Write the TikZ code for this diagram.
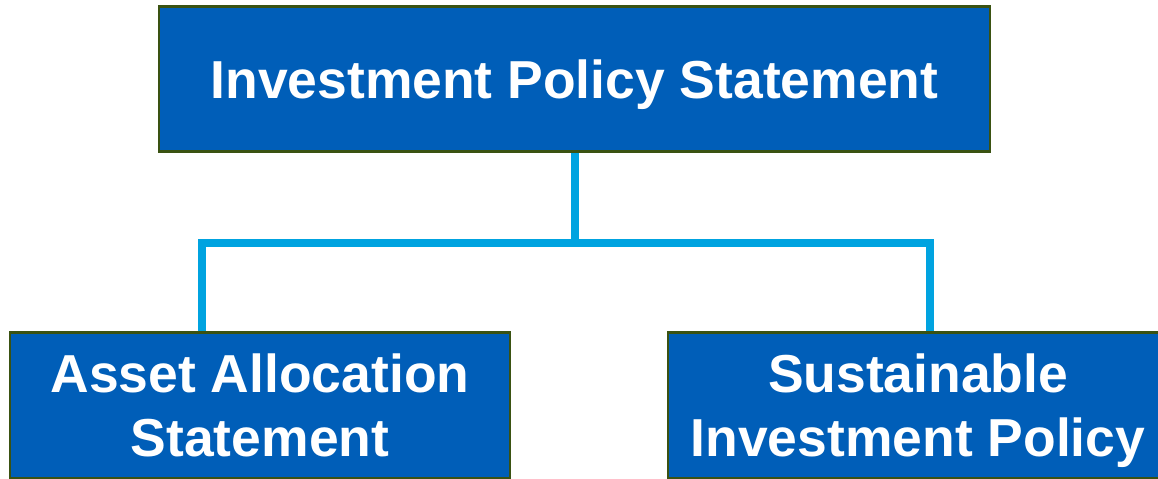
\documentclass[tikz,border=0pt]{standalone}
\usepackage{fontspec}
\setmainfont{Liberation Sans}

\definecolor{boxblue}{RGB}{0,94,184}
\definecolor{boxedge}{RGB}{58,82,18}
\definecolor{linkblue}{RGB}{0,163,224}

\tikzset{
  box/.style={draw=boxedge, line width=0.6pt, fill=boxblue, text=white,
    font=\fontsize{15.2}{18.2}\selectfont\bfseries, align=center,
    minimum height=1.45cm, inner sep=0pt},
  link/.style={draw=linkblue, line width=0.08cm}
}

\begin{document}
\begin{tikzpicture}[x=0.01cm, y=-0.01cm]

\clip (0,0) rectangle (1158,478);
\fill [white] (0,0) rectangle (1158,478);

\coordinate (jl) at (202,243);
\coordinate (jr) at (930,243);

\node [box, minimum width=8.31cm, text depth=0pt] (ips) at (574.5,79) {Investment Policy Statement};
\node [box, minimum width=5cm] (aas) at (260,405) {Asset Allocation\\Statement};
\node [box, minimum width=5cm] (sip) at (918,405) {Sustainable\\\smash{Investment Policy}};

\draw [link] (ips.south) -- (ips.south |- jl);
\draw [link] (aas.north -| jl) -- (jl) -- (jr) -- (sip.north -| jr);

\end{tikzpicture}
\end{document}
